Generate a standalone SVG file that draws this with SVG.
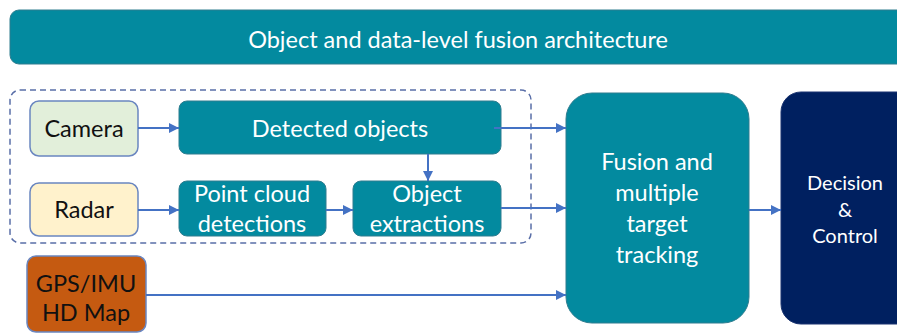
<svg xmlns="http://www.w3.org/2000/svg" width="897" height="333" viewBox="0 0 897 333">
<style>
text{font-family:Lato,"Open Sans","Liberation Sans",sans-serif;text-anchor:middle}
.teal{fill:#038a9f;stroke:#2f7d8f;stroke-width:1}
.w{fill:#ffffff;font-size:23.5px}
.b{fill:#111111;font-size:23.5px}
.d{fill:#ffffff;font-size:20px}
.c{stroke:#4472c4;stroke-width:2;fill:none;marker-end:url(#ah)}
</style>
<defs>
<marker id="ah" viewBox="0 0 10 10" refX="10" refY="5" markerWidth="5" markerHeight="5" orient="auto" markerUnits="strokeWidth">
<path d="M0,0 L10,5 L0,10 z" fill="#4472c4"/>
</marker>
</defs>
<rect width="897" height="333" fill="#ffffff"/>
<g id="title">
<rect class="teal" x="10" y="10" width="900" height="54" rx="9"/>
<text class="w" x="458" y="48">Object and data-level fusion architecture</text>
</g>
<g id="group-box">
<rect x="10" y="90" width="521" height="153" rx="10" fill="none" stroke="#5a6fa8" stroke-width="1.5" stroke-dasharray="6,4"/>
</g>
<g id="camera">
<rect x="30" y="101" width="108" height="55" rx="9" fill="#e2efda" stroke="#6a86c0" stroke-width="1.5"/>
<text class="b" x="84" y="137">Camera</text>
</g>
<g id="radar">
<rect x="30" y="183" width="108" height="53" rx="9" fill="#fff2cc" stroke="#6a86c0" stroke-width="1.5"/>
<text class="b" x="84" y="218">Radar</text>
</g>
<g id="detected">
<rect class="teal" x="179" y="101" width="322" height="53" rx="8"/>
<text class="w" x="340" y="137">Detected objects</text>
</g>
<g id="pointcloud">
<rect class="teal" x="179" y="181" width="147" height="55" rx="8"/>
<text class="w" x="252" y="202">Point cloud</text>
<text class="w" x="252" y="232">detections</text>
</g>
<g id="extractions">
<rect class="teal" x="353" y="181" width="148" height="55" rx="8"/>
<text class="w" x="427" y="202">Object</text>
<text class="w" x="427" y="232">extractions</text>
</g>
<g id="gps">
<rect x="27" y="256" width="119" height="76" rx="9" fill="#c55a11" stroke="#6a86c0" stroke-width="1.5"/>
<text class="b" x="86" y="292">GPS/IMU</text>
<text class="b" x="86" y="321">HD Map</text>
</g>
<g id="fusion">
<rect class="teal" x="566" y="93" width="183" height="230" rx="26"/>
<text class="w" x="657" y="170">Fusion and</text>
<text class="w" x="657" y="201">multiple</text>
<text class="w" x="657" y="232">target</text>
<text class="w" x="657" y="263">tracking</text>
</g>
<g id="decision">
<rect x="781" y="92" width="140" height="232" rx="20" fill="#002060" stroke="#1a3370" stroke-width="1"/>
<text class="d" x="845" y="190">Decision</text>
<text class="d" x="845" y="217">&amp;</text>
<text class="d" x="845" y="243">Control</text>
</g>
<g id="connectors">
<path class="c" d="M138,128 H179"/>
<path class="c" d="M138,210 H179"/>
<path class="c" d="M326,210 H353"/>
<path class="c" d="M428,154 V181"/>
<path class="c" d="M494,128 H566"/>
<path class="c" d="M501,208 H566"/>
<path class="c" d="M146,295 H566"/>
<path class="c" d="M749,210 H781"/>
</g>
</svg>
